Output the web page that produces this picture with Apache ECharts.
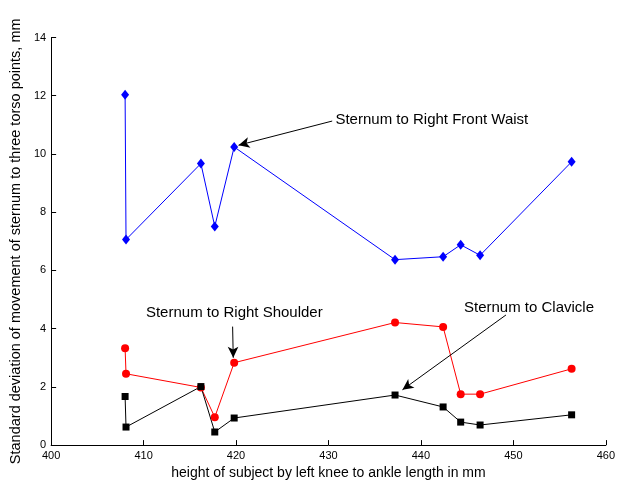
<!DOCTYPE html>
<html>
<head>
<meta charset="utf-8">
<script src="https://cdn.jsdelivr.net/npm/echarts@6/dist/echarts.min.js"></script>
<style>
  html, body { margin: 0; padding: 0; background: #fff; }
  #chart { width: 618px; height: 485px; }
</style>
</head>
<body>
<div id="chart"></div>
<script>
// knee-to-ankle length of each subject, mm
const subjectLengths = [408.0, 408.1, 416.2, 417.7, 419.8, 437.2, 442.4, 444.3, 446.4, 456.3];

// standard deviation of sternum movement, mm
const frontWaistValues = [12.03, 7.06, 9.67, 7.51, 10.24, 6.37, 6.47, 6.88, 6.52, 9.73];
const shoulderValues = [3.33, 2.45, 1.98, 0.96, 2.83, 4.21, 4.06, 1.75, 1.75, 2.62];
const clavicleValues = [1.67, 0.62, 2.01, 0.45, 0.93, 1.72, 1.31, 0.79, 0.69, 1.04];

const xTicks = { min: 400, max: 460, step: 10 };
const yTicks = { min: 0, max: 14, step: 2 };

// callouts: text anchor, arrow start, arrow tip (data coords)
const callouts = [
  { text: "Sternum to Right Front Waist", at: [430.7, 11.18], from: [430.4, 11.13], to: [420.27, 10.30] },
  { text: "Sternum to Right Shoulder", at: [410.2, 4.53], from: [419.63, 4.07], to: [419.7, 3.0] },
  { text: "Sternum to Clavicle", at: [444.6, 4.73], from: [449.2, 4.47], to: [438.0, 1.90] },
];

function pairUp(xs, ys) {
  return xs.map(function (x, i) { return [x, ys[i]]; });
}

function lineSeries(name, values, color, symbol, size) {
  return {
    name: name,
    type: "line",
    data: pairUp(subjectLengths, values),
    symbol: symbol,
    symbolSize: size,
    showAllSymbol: true,
    lineStyle: { color: color, width: 1 },
    itemStyle: { color: color },
    emphasis: { disabled: true },
  };
}

const font = "'Liberation Sans', Arial, Helvetica, sans-serif";

const chart = echarts.init(document.getElementById("chart"), null, { renderer: "canvas" });

chart.setOption({
  animation: false,
  backgroundColor: "#fff",
  textStyle: { fontFamily: font },
  grid: { left: 45.5, right: 8.5, top: 37.5, bottom: 35, containLabel: false },
  xAxis: {
    type: "value",
    min: xTicks.min,
    max: xTicks.max,
    interval: xTicks.step,
    name: "height of subject by left knee to ankle length in mm",
    nameLocation: "middle",
    nameGap: 18,
    nameTextStyle: { color: "#000", fontSize: 14, fontFamily: font },
    axisLine: { lineStyle: { color: "#000", width: 1 } },
    axisTick: { inside: true, length: 5, lineStyle: { color: "#000" } },
    axisLabel: { color: "#000", fontSize: 11, margin: 5, fontFamily: font },
    splitLine: { show: false },
  },
  yAxis: {
    type: "value",
    min: yTicks.min,
    max: yTicks.max,
    interval: yTicks.step,
    name: "Standard deviation of movement of sternum to three torso points, mm",
    nameLocation: "middle",
    nameGap: 27,
    nameTextStyle: { color: "#000", fontSize: 14.5, fontFamily: font },
    axisLine: { show: true, lineStyle: { color: "#000", width: 1 } },
    axisTick: { show: true, inside: true, length: 5, lineStyle: { color: "#000" } },
    axisLabel: { color: "#000", fontSize: 11, margin: 5, fontFamily: font },
    splitLine: { show: false },
  },
  series: [
    lineSeries("Sternum to Right Front Waist", frontWaistValues, "#0000ff", "diamond", [8, 10]),
    lineSeries("Sternum to Right Shoulder", shoulderValues, "#ff0000", "circle", 8),
    lineSeries("Sternum to Clavicle", clavicleValues, "#000000", "rect", 7),
    {
      name: "callouts",
      type: "line",
      data: [],
      silent: true,
      markLine: {
        silent: true,
        animation: false,
        symbol: ["none", "arrow"],
        symbolSize: [8, 11],
        label: { show: false },
        lineStyle: { color: "#000", width: 1, type: "solid" },
        emphasis: { disabled: true },
        data: callouts.map(function (c) {
          return [{ coord: c.from }, { coord: c.to }];
        }),
      },
      markPoint: {
        silent: true,
        animation: false,
        symbol: "circle",
        symbolSize: 1,
        itemStyle: { color: "rgba(0,0,0,0)" },
        label: {
          show: true,
          position: "right",
          distance: 0,
          color: "#000",
          fontSize: 15,
          fontFamily: font,
          formatter: function (p) { return p.name; },
        },
        data: callouts.map(function (c) {
          return { name: c.text, coord: c.at };
        }),
      },
    },
  ],
});
</script>
</body>
</html>
